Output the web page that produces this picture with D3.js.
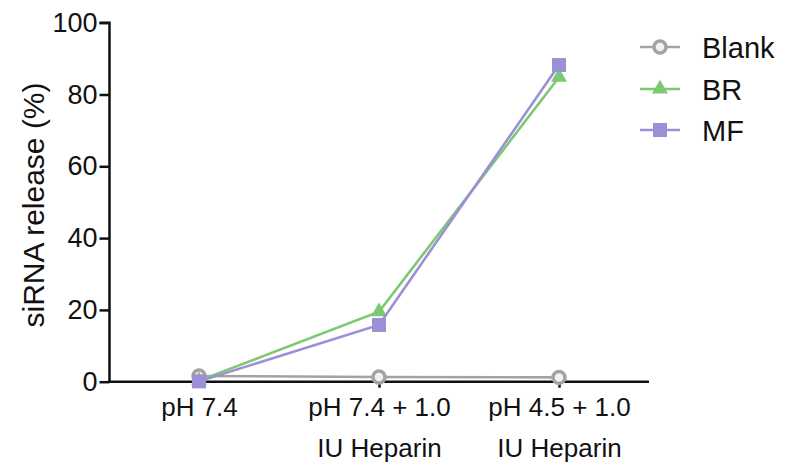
<!DOCTYPE html>
<html><head><meta charset="utf-8">
<script src="https://cdn.jsdelivr.net/npm/d3@7"></script>
<style>body{margin:0;background:#fff}svg{display:block}text{font-family:"Liberation Sans",Arial,sans-serif;fill:#111}</style>
</head><body><svg id="c" width="785" height="468"></svg>
<script>
const categories = ["pH 7.4", "pH 7.4 + 1.0\nIU Heparin", "pH 4.5 + 1.0\nIU Heparin"];
const blank = [1.6, 1.3, 1.2];
const br = [0.3, 19.5, 84.8];
const mf = [0.1, 15.8, 88.2];
const yTicks = [0, 20, 40, 60, 80, 100];
const seriesNames = ["Blank", "BR", "MF"];
const colors = ["#a3a3a3", "#7cc873", "#9b90d6"];

const svg = d3.select("#c");
const x = d3.scalePoint().domain(categories).range([199, 559]);
const y = d3.scaleLinear().domain([0, 100]).range([381.7, 22.7]);

// y axis
const ya = svg.append("g").attr("transform", "translate(109.5,0)")
  .call(d3.axisLeft(y).tickValues(yTicks).tickSize(10).tickPadding(2));
ya.select(".domain").attr("stroke", "#111").attr("stroke-width", 2.5).attr("d", `M-10,${y(100)}H0V${y(0)}`);
ya.selectAll(".tick line").attr("stroke", "#111").attr("stroke-width", 2.5);
ya.selectAll(".tick text").style("font-size", "27px").attr("fill", "#111");

// x axis
const xa = svg.append("g").attr("transform", `translate(0,${y(0)})`)
  .call(d3.axisBottom(x).tickSize(6).tickFormat(""));
xa.select(".domain").attr("stroke", "#111").attr("stroke-width", 2.5).attr("d", `M108.3,0H649`);
xa.selectAll(".tick line").attr("stroke", "#111").attr("stroke-width", 2.5);
xa.selectAll(".tick").each(function(d){
  const lines = d.split("\n");
  const t = d3.select(this).append("text").attr("text-anchor","middle").style("font-size","26px").attr("fill","#111");
  lines.forEach((l,i)=>t.append("tspan").attr("x",0).attr("y", 34 + i*41).text(l));
});

// y title
svg.append("text").attr("transform","translate(44,205) rotate(-90)")
  .attr("text-anchor","middle").style("font-size","30px").text("siRNA release (%)");

const data = [blank, br, mf];
const line = d3.line().x((d,i)=>x(categories[i])).y(d=>y(d));

function marker(g, type, cx, cy, color){
  if (type === 0) {
    g.append("circle").attr("cx",cx).attr("cy",cy).attr("r",6).attr("fill","#f2f2f2").attr("stroke",color).attr("stroke-width",3.5);
  } else if (type === 1) {
    g.append("path").attr("d", d3.symbol(d3.symbolTriangle, 110)()).attr("transform",`translate(${cx},${cy})`).attr("fill",color);
  } else {
    g.append("rect").attr("x",cx-7).attr("y",cy-7).attr("width",14).attr("height",14).attr("fill",color);
  }
}

data.forEach((vals, k)=>{
  const g = svg.append("g");
  g.append("path").attr("d", line(vals)).attr("fill","none").attr("stroke",colors[k]).attr("stroke-width",2.6);
  vals.forEach((v,i)=>marker(g, k, x(categories[i]), y(v), colors[k]));
});

// legend
const legY = [47, 89, 130];
seriesNames.forEach((n,k)=>{
  const g = svg.append("g");
  g.append("line").attr("x1",640).attr("x2",680).attr("y1",legY[k]).attr("y2",legY[k]).attr("stroke",colors[k]).attr("stroke-width",2.6);
  marker(g, k, 660, legY[k], colors[k]);
  g.append("text").attr("x",702).attr("y",legY[k]+10.5).style("font-size","29px").text(n);
});
</script></body></html>
